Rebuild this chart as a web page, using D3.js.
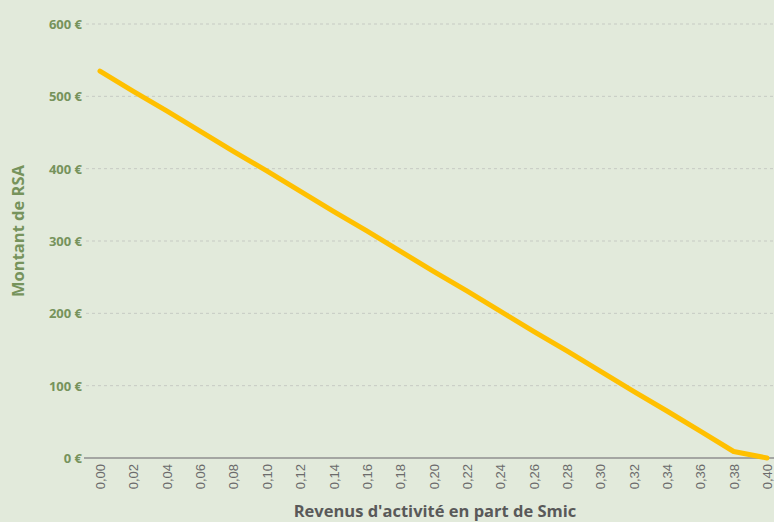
<!DOCTYPE html>
<html>
<head>
<meta charset="utf-8">
<script src="https://cdn.jsdelivr.net/npm/d3@7"></script>
<style>
  html, body { margin: 0; padding: 0; background: #e2eadb; }
  svg { display: block; }
</style>
</head>
<body>
<svg id="chart" width="774" height="522"></svg>
<script>
// Data
const shareOfSmic = [0.00, 0.02, 0.04, 0.06, 0.08, 0.10, 0.12, 0.14, 0.16, 0.18, 0.20,
                     0.22, 0.24, 0.26, 0.28, 0.30, 0.32, 0.34, 0.36, 0.38, 0.40];
const rsaAmount = [535, 507, 480, 452, 424, 397, 369, 341, 314, 286, 258,
                   231, 203, 175, 148, 120, 92, 65, 37, 9, 0];
const yTicks = [0, 100, 200, 300, 400, 500, 600];
const xTickLabels = ["0,00","0,02","0,04","0,06","0,08","0,10","0,12","0,14","0,16","0,18","0,20",
                     "0,22","0,24","0,26","0,28","0,30","0,32","0,34","0,36","0,38","0,40"];
const xTitle = "Revenus d'activité en part de Smic";
const yTitle = "Montant de RSA";

const W = 774, H = 522;
const svg = d3.select("#chart");
svg.append("rect").attr("width", W).attr("height", H).attr("fill", "#e2eadb");

const x = d3.scaleLinear().domain([0, 0.40]).range([100, 767]);
const y = d3.scaleLinear().domain([0, 600]).range([458, 24]);

// Gridlines
svg.append("g").selectAll("line").data(yTicks.filter(d => d > 0)).join("line")
  .attr("x1", 86).attr("x2", W)
  .attr("y1", d => y(d)).attr("y2", d => y(d))
  .attr("stroke", "#c6cac3").attr("stroke-width", 1).attr("stroke-dasharray", "3,3");

// Y axis labels
const yAxis = d3.axisLeft(y).tickValues(yTicks).tickSize(0).tickPadding(0)
  .tickFormat(d => d + " €");
const yg = svg.append("g").attr("transform", "translate(82,0)").call(yAxis);
yg.select(".domain").remove();
yg.selectAll("text")
  .attr("fill", "#76935c").attr("font-family", "'Open Sans', sans-serif")
  .attr("font-weight", "bold").attr("font-size", "13px").attr("dy", "0.35em");

// Baseline
svg.append("line").attr("x1", 84).attr("x2", W).attr("y1", y(0)).attr("y2", y(0))
  .attr("stroke", "#8f8f8f").attr("stroke-width", 1.5);

// X axis labels
const xAxis = d3.axisBottom(x).tickValues(shareOfSmic).tickSize(0).tickPadding(0)
  .tickFormat((d, i) => xTickLabels[i]);
const xg = svg.append("g").attr("transform", `translate(0,${y(0)})`).call(xAxis);
xg.select(".domain").remove();
xg.selectAll("text")
  .attr("transform", "rotate(-90)")
  .attr("text-anchor", "end")
  .attr("x", -6).attr("y", 0).attr("dy", "0.35em")
  .attr("fill", "#6b6b6b").attr("font-family", "'Liberation Sans', Arial, sans-serif")
  .attr("font-size", "13px");

// Line
const line = d3.line().x((d, i) => x(shareOfSmic[i])).y(d => y(d));
svg.append("path").datum(rsaAmount)
  .attr("d", line).attr("fill", "none")
  .attr("stroke", "#ffc000").attr("stroke-width", 5)
  .attr("stroke-linejoin", "round").attr("stroke-linecap", "round");

// Titles
svg.append("text").attr("x", 435).attr("y", 517).attr("text-anchor", "middle")
  .attr("font-family", "'Open Sans', sans-serif").attr("font-weight", "bold")
  .attr("font-size", "16.5px").attr("fill", "#595959").text(xTitle);

svg.append("text").attr("transform", "translate(24,231) rotate(-90)")
  .attr("text-anchor", "middle")
  .attr("font-family", "'Open Sans', sans-serif").attr("font-weight", "bold")
  .attr("font-size", "16.5px").attr("fill", "#76935c").text(yTitle);
</script>
</body>
</html>
